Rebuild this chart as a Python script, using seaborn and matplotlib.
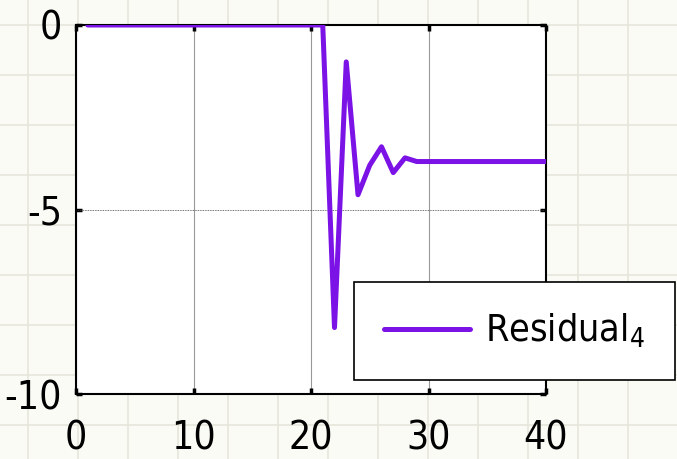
import seaborn as sns
import matplotlib.pyplot as plt
import numpy as np
import pandas as pd

sns.set_style("white")
plt.rcParams['font.family'] = ['DejaVu Sans']
plt.rcParams['font.stretch'] = 'condensed'
plt.rcParams['axes.unicode_minus'] = False
plt.rcParams['text.color'] = 'black'

# data
steps = list(range(1, 41))
residual = [0.0] * 21 + [-8.2, -1.0, -4.6, -3.8, -3.3, -4.0, -3.6, -3.7] + [-3.7] * 11
x_ticks = [0, 10, 20, 30, 40]
y_ticks = [0, -5, -10]
series_name = r"Residual$\mathregular{_4}$"

df = pd.DataFrame({"step": steps, "value": residual})

fig = plt.figure(figsize=(6.77, 4.59), dpi=100)
fig.patch.set_facecolor('#fbfbf5')

# faint paper grid behind everything
bg = fig.add_axes([0, 0, 1, 1], zorder=-1)
bg.set_xlim(0, 677)
bg.set_ylim(459, 0)
bg.set_facecolor('#fbfbf5')
for xv in np.arange(28, 677, 50):
    bg.axvline(xv, color='#e6e6dc', lw=1.2)
for yv in np.arange(25, 459, 50):
    bg.axhline(yv, color='#e6e6dc', lw=1.2)
bg.axis('off')

ax = fig.add_axes([76 / 677, 1 - 394 / 459, 470 / 677, 369 / 459])
ax.set_facecolor('white')
sns.lineplot(data=df, x="step", y="value", ax=ax, color='#7b12e6', lw=3.6,
             label=series_name, zorder=3)

ax.set_xlim(0, 40)
ax.set_ylim(-10, 0)
ax.set_xticks(x_ticks)
ax.set_yticks(y_ticks)
ax.set_xlabel("")
ax.set_ylabel("")

ax.xaxis.grid(True, color='#999999', lw=0.8, ls='-')
ax.axhline(-5, color='#444444', lw=0.6, ls=(0, (1, 1)), zorder=1)

for s in ax.spines.values():
    s.set_color('black')
    s.set_linewidth(1.5)

ax.tick_params(direction='in', length=4, width=2.5, top=True, right=True,
               bottom=True, left=True, labelsize=28, colors='black')
ax.tick_params(axis='x', pad=18)
ax.tick_params(axis='y', pad=10)

leg = ax.legend(loc='lower right', bbox_to_anchor=(675 / 677, 1 - 380 / 459),
                bbox_transform=fig.transFigure, fontsize=27, frameon=True,
                fancybox=False, handlelength=2.3, borderpad=0.8,
                handletextpad=0.4, borderaxespad=0)
leg.get_frame().set_edgecolor('black')
leg.get_frame().set_linewidth(1.2)
leg.get_frame().set_alpha(1)

fig.savefig("out.png", dpi=100, facecolor=fig.get_facecolor())
